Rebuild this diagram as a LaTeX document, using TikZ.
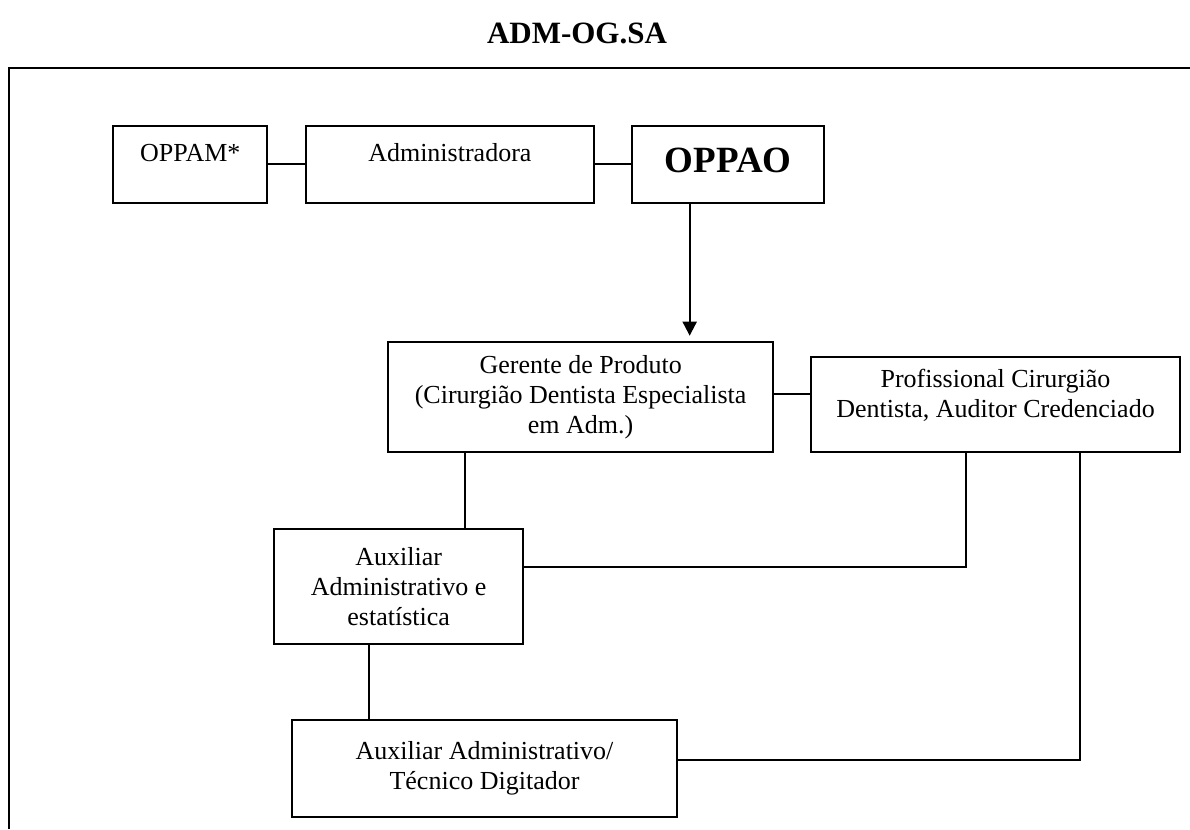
\documentclass[tikz,border=0pt]{standalone}
\usepackage{fontspec}
\setmainfont{Liberation Serif}
\usetikzlibrary{arrows.meta,calc}

\begin{document}
\begin{tikzpicture}[x=1pt,y=-1pt,
  box/.style={draw,line width=2pt,inner sep=0pt,align=center,
    font=\fontsize{26}{30}\selectfont},
  topbox/.style={box,minimum height=77pt},
  link/.style={line width=2pt},
  arrowlink/.style={link,-{Triangle[width=14pt,length=14pt]}},
]
\useasboundingbox (0,0) rectangle (1190,829);

% heading and enclosing frame
\node[font=\bfseries\fontsize{31}{34}\selectfont,anchor=base] (title) at (577,44) {ADM-OG.SA};
\coordinate (frametr) at (1190,68);
\coordinate (frametl) at (9,68);
\coordinate (framebl) at (9,829);
\draw[link] (frametr) -- (frametl) -- (framebl);

% top row
\node[topbox,minimum width=154pt,text height=18pt,text depth=23pt] (oppam) at (190.3,164.2) {OPPAM*};
\node[topbox,minimum width=288.3pt,text height=18pt,text depth=23pt] (admin) at (449.85,164.2) {Administradora};
\node[topbox,minimum width=192.3pt,text height=26pt,text depth=10.4pt,
  font=\bfseries\fontsize{37}{40}\selectfont] (oppao) at (728.15,164.2) {OPPAO};

% management level
\node[box,minimum width=384.7pt,minimum height=110.6pt] (gerente) at (580.65,397)
  {Gerente de Produto\\(Cirurgião Dentista Especialista\\em Adm.)};
\node[box,minimum width=369pt,minimum height=95.6pt] (prof) at (995.5,404.5)
  {Profissional Cirurgião\\Dentista, Auditor Credenciado\\[-8pt]\mbox{}};

% support staff
\node[box,minimum width=249.3pt,minimum height=115pt] (aux) at (398.65,586.5)
  {Auxiliar\\Administrativo e\\estatística};
\node[box,minimum width=384.4pt,minimum height=96.7pt] (dig) at (484.5,768.35)
  {Auxiliar Administrativo/\\Técnico Digitador};

% connectors
\draw[link] (oppam.east) -- (admin.west);
\draw[link] (admin.east) -- (oppao.west);

\coordinate (oppaoout) at ($(oppao.south west)!0.302!(oppao.south east)$);
\draw[arrowlink,shorten >=5pt] (oppaoout) -- (oppaoout |- gerente.north);

\coordinate (profin) at ($(prof.north west)!0.393!(prof.south west)$);
\draw[link] (profin) -- (profin -| gerente.east);

\coordinate (gerout) at ($(gerente.south west)!0.2!(gerente.south east)$);
\draw[link] (gerout) -- (gerout |- aux.north);

\coordinate (profoutA) at ($(prof.south west)!0.42!(prof.south east)$);
\coordinate (auxin) at ($(aux.north east)!0.333!(aux.south east)$);
\draw[link] (profoutA) |- (auxin);

\coordinate (profoutB) at ($(prof.south west)!0.729!(prof.south east)$);
\coordinate (digin) at ($(dig.north east)!0.42!(dig.south east)$);
\draw[link] (profoutB) |- (digin);

\coordinate (auxout) at ($(aux.south west)!0.382!(aux.south east)$);
\draw[link] (auxout) -- (auxout |- dig.north);
\end{tikzpicture}
\end{document}
